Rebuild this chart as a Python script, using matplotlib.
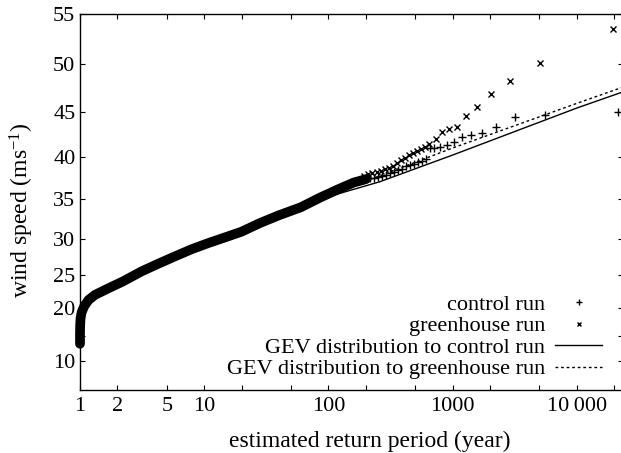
import numpy as np
import matplotlib
matplotlib.use("Agg")
import matplotlib.pyplot as plt
from matplotlib.lines import Line2D
from matplotlib.ticker import NullLocator, FixedLocator, FixedFormatter

plt.rcParams['font.family'] = ['Liberation Serif', 'DejaVu Serif']
plt.rcParams['mathtext.default'] = 'regular'

# ---------------- data ----------------
# dense part, where both runs overlap into one thick band
band_T = [1.0, 1.0, 1.003, 1.01, 1.03, 1.08, 1.17, 1.32, 1.69, 2.2, 3.14, 4.3,
          5.82, 8.0, 10.8, 15.0, 20.0, 28.0, 40.0, 60.0, 86.0, 120.0, 160.0, 200.0]
band_v = [13.6, 15.5, 17.0, 18.2, 19.2, 20.2, 21.2, 22.0, 23.0, 24.0, 25.5, 26.6,
          27.6, 28.6, 29.4, 30.2, 30.9, 32.0, 33.0, 34.0, 35.2, 36.2, 37.0, 37.4]

# separate tail points
ctrl_T = [215, 232, 250, 270, 290, 313, 337, 363, 391, 421, 454, 489, 527, 568,
          612, 656, 708, 792, 906, 1026, 1191, 1398, 1733, 2235, 3197, 5510, 21300]
ctrl_v = [37.5, 37.55, 37.65, 37.8, 37.9, 38.1, 38.25, 38.45, 38.65, 38.9, 39.05,
          39.2, 39.35, 39.55, 39.75, 41.0, 41.05, 41.1, 41.35, 41.7, 42.2, 42.5,
          42.65, 43.3, 44.4, 44.7, 44.96]

ghg_T = [195, 210, 226, 244, 263, 283, 305, 329, 355, 382, 412, 444, 478, 515,
         555, 598, 640, 735, 822, 940, 1079, 1282, 1582, 2050, 2915, 5080, 19450]
ghg_v = [37.8, 37.95, 38.1, 38.25, 38.4, 38.6, 38.75, 38.95, 39.25, 39.6, 39.9,
         40.15, 40.4, 40.7, 40.9, 41.1, 41.4, 42.0, 42.8, 43.1, 43.3, 44.5, 45.5,
         46.9, 48.25, 50.1, 53.5]

# GEV fits
gev_T = [20, 100, 260, 1000, 10000, 23300]
gev_ctrl_v = [30.9, 35.3, 37.1, 40.2, 45.4, 47.1]
gev_ghg_v = [30.9, 35.5, 37.8, 41.0, 45.9, 47.6]

x_ticks = [1, 2, 5, 10, 20, 50, 100, 200, 500, 1000, 2000, 5000, 10000, 20000]
x_labels = ['1', '2', '5', '10', '', '', '100', '', '', '1000', '', '', '10\u2009000', '']
y_ticks = [10, 15, 20, 25, 30, 35, 40, 45, 50, 55]
y_labels = ['10', '', '20', '25', '30', '35', '40', '45', '50', '55']

legend_labels = ['control run', 'greenhouse run',
                 'GEV distribution to control run',
                 'GEV distribution to greenhouse run']

# ---------------- figure ----------------
W, H = 621, 453
fig = plt.figure(figsize=(W / 100, H / 100), dpi=100)
ax = fig.add_axes([80 / W, 1 - 390 / H, (622.5 - 80) / W, (390 - 14) / H])


def fwd(v):
    v = np.asarray(v, dtype=float)
    return np.sign(v) * np.abs(v) ** 1.5


def inv(u):
    u = np.asarray(u, dtype=float)
    return np.sign(u) * np.abs(u) ** (2.0 / 3.0)


ax.set_xscale('log')
ax.set_yscale('function', functions=(fwd, inv))
ax.set_xlim(1, 23300)
ax.set_ylim(0, 55)

# GEV lines
ax.plot(gev_T, gev_ctrl_v, color='k', lw=1.0, zorder=2)
ax.plot(gev_T, gev_ghg_v, color='k', lw=1.0, ls=(0, (2, 2)), zorder=2)

# dense band
ax.plot(band_T, band_v, color='k', lw=7.0, solid_capstyle='round',
        solid_joinstyle='round', zorder=3, clip_on=False)
ax.plot(band_T, band_v, ls='none', marker='+', color='k', ms=5, mew=1,
        zorder=3, clip_on=False)

# tails
ax.plot(ctrl_T, ctrl_v, ls='none', marker='+', color='k', ms=5.5, mew=1.0,
        zorder=4, clip_on=False)
ax.plot(ghg_T, ghg_v, ls='none', marker='x', color='k', ms=4.5, mew=1.0,
        zorder=4, clip_on=False)

# ticks
ax.xaxis.set_major_locator(FixedLocator(x_ticks))
ax.xaxis.set_major_formatter(FixedFormatter(x_labels))
ax.xaxis.set_minor_locator(NullLocator())
ax.yaxis.set_major_locator(FixedLocator(y_ticks))
ax.yaxis.set_major_formatter(FixedFormatter(y_labels))
ax.yaxis.set_minor_locator(NullLocator())
ax.tick_params(axis='both', direction='in', length=3.3, width=0.8,
               top=True, right=True, labelsize=16)
ax.tick_params(axis='x', pad=5)
ax.tick_params(axis='y', pad=3.3)
for s in ax.spines.values():
    s.set_linewidth(1.0)

fig.text(21.5 / W, 1 - 210 / H, 'wind speed (ms$^{-1}$)', rotation=90,
         ha='center', va='center', fontsize=17)
fig.text(369.5 / W, 1 - 441 / H, 'estimated return period (year)',
         ha='center', va='center', fontsize=17)

handles = [Line2D([], [], ls='none', marker='+', color='k', ms=4.5, mew=1),
           Line2D([], [], ls='none', marker='x', color='k', ms=3.5, mew=1),
           Line2D([], [], color='k', lw=1.0),
           Line2D([], [], color='k', lw=1.0, ls=(0, (2, 2)))]
fig.legend(handles, legend_labels, loc='upper right',
           bbox_to_anchor=(602 / W, 1 - 294.5 / H), frameon=False,
           markerfirst=False, fontsize=16, handlelength=2.1,
           handletextpad=0.45, labelspacing=0.04, borderpad=0,
           borderaxespad=0)

fig.savefig('out.png', dpi=100)
